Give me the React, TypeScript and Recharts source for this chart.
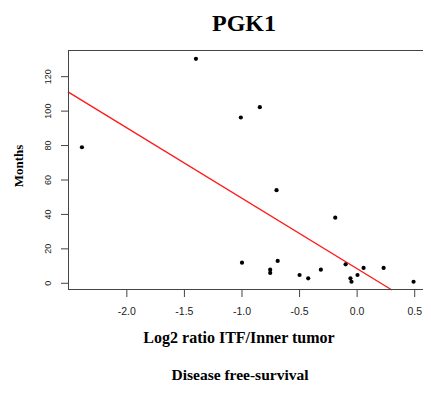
import React from "react";
import { ScatterChart, Scatter, XAxis, YAxis, ReferenceLine } from "recharts";

const xValues = [-2.39, -1.40, -1.01, -1.0, -0.845, -0.70, -0.19, -0.69, -0.755, -0.755, -0.50, -0.425, -0.315, -0.10, -0.058, -0.049, 0.003, 0.056, 0.23, 0.49];
const yValues = [79, 130.4, 96.3, 12.0, 102.3, 54.1, 38.1, 13.0, 7.9, 6.0, 4.8, 2.9, 7.9, 11.0, 2.9, 0.9, 4.8, 8.9, 8.9, 0.9];
const xTicks = [-2.0, -1.5, -1.0, -0.5, 0.0, 0.5];
const yTicks = [0, 20, 40, 60, 80, 100, 120];
const xDomain = [-2.511, 0.598];
const yDomain = [-3.9, 135.5];
const fitLine = [
  { x: -2.511, y: 111.2 },
  { x: 0.302, y: -3.9 },
];

const points = xValues.map((x, i) => ({ x, y: yValues[i] }));

const W = 423;
const H = 388;
const MARGIN = { top: 42, right: 5, bottom: 0, left: 0 };
const X_AXIS_H = 106;
const Y_AXIS_W = 60;
const plotLeft = MARGIN.left + Y_AXIS_W;
const plotTop = MARGIN.top;
const plotW = W - MARGIN.left - MARGIN.right - Y_AXIS_W;
const plotH = H - MARGIN.top - MARGIN.bottom - X_AXIS_H;

const serif = '"Liberation Serif", "Times New Roman", serif';
const sans = '"Liberation Sans", Arial, sans-serif';
const frame = "#444";

const XTick = (props: any) => {
  const { x, y, payload } = props;
  return (
    <text x={x} y={y + 12} textAnchor="middle" dominantBaseline="central" fontFamily={sans} fontSize={10.5} fill="#222">
      {Number(payload.value).toFixed(1)}
    </text>
  );
};

const YTick = (props: any) => {
  const { x, y, payload } = props;
  const cx = x - 11;
  return (
    <text x={cx} y={y} transform={`rotate(-90, ${cx}, ${y})`} textAnchor="middle" dominantBaseline="central" fontFamily={sans} fontSize={9} fill="#222">
      {payload.value}
    </text>
  );
};

const Dot = (props: any) => {
  const { cx, cy } = props;
  return <circle cx={cx} cy={cy} r={2.1} fill="#000" />;
};

export default function App() {
  return (
    <div style={{ position: "relative", width: W, height: H }}>
      <ScatterChart width={W} height={H} margin={MARGIN}>
        <XAxis
          type="number"
          dataKey="x"
          domain={xDomain}
          ticks={xTicks}
          allowDataOverflow
          axisLine={false}
          tickLine={{ stroke: "#444" }}
          tickSize={7}
          tickMargin={2}
          height={X_AXIS_H}
          tick={<XTick />}
          interval={0}
        />
        <YAxis
          type="number"
          dataKey="y"
          domain={yDomain}
          ticks={yTicks}
          allowDataOverflow
          axisLine={false}
          tickLine={{ stroke: "#444" }}
          tickSize={7}
          tickMargin={2}
          width={Y_AXIS_W}
          tick={<YTick />}
          interval={0}
        />
        <ReferenceLine segment={fitLine} stroke="#ff1a1a" strokeWidth={1.4} ifOverflow="visible" />
        <Scatter data={points} shape={<Dot />} isAnimationActive={false} />
      </ScatterChart>
      <svg width={W} height={H} style={{ position: "absolute", left: 0, top: 0, pointerEvents: "none" }}>
        <rect x={plotLeft + 0.5} y={plotTop + 0.5} width={plotW - 1} height={plotH - 1} fill="none" stroke={frame} strokeWidth={1} />
        <text x={236} y={15} textAnchor="middle" dominantBaseline="central" fontFamily={serif} fontWeight="bold" fontSize={24} fill="#000">PGK1</text>
        <text x={231} y={329} textAnchor="middle" dominantBaseline="central" fontFamily={serif} fontWeight="bold" fontSize={16} fill="#000">Log2 ratio ITF/Inner tumor</text>
        <text x={232} y={366} textAnchor="middle" dominantBaseline="central" fontFamily={serif} fontWeight="bold" fontSize={15.5} fill="#000">Disease free-survival</text>
        <text x={10} y={158} transform="rotate(-90, 10, 158)" textAnchor="middle" dominantBaseline="central" fontFamily={serif} fontWeight="bold" fontSize={13} fill="#000">Months</text>
      </svg>
    </div>
  );
}
